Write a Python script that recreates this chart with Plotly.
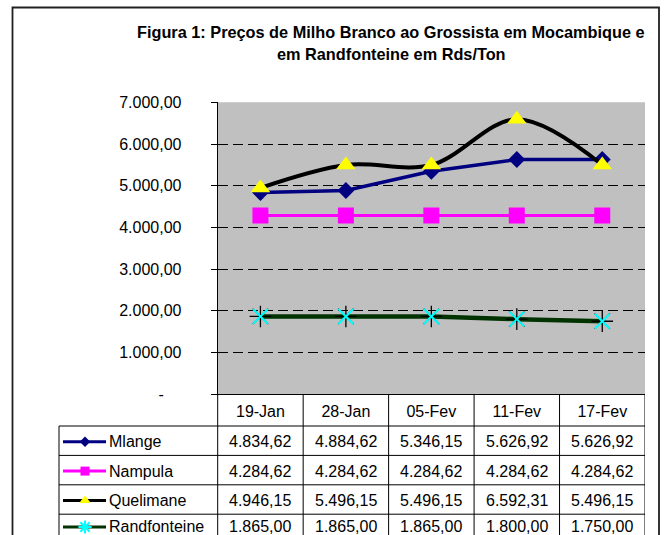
import plotly.graph_objects as go

# ---------------- data ----------------
categories = ["19-Jan", "28-Jan", "05-Fev", "11-Fev", "17-Fev"]
series_names = ["Mlange", "Nampula", "Quelimane", "Randfonteine"]
mlange = [4834.62, 4884.62, 5346.15, 5626.92, 5626.92]
nampula = [4284.62, 4284.62, 4284.62, 4284.62, 4284.62]
quelimane = [4946.15, 5496.15, 5496.15, 6592.31, 5496.15]
randfonteine = [1865.00, 1865.00, 1865.00, 1800.00, 1750.00]
y_ticks = [0, 1000, 2000, 3000, 4000, 5000, 6000, 7000]
title_lines = ["Figura 1: Preços de Milho Branco ao Grossista em Mocambique e",
               "em Randfonteine em Rds/Ton"]

# ---------------- layout helpers ----------------
W, H = 664, 535
FONT = "Liberation Sans, Arial, sans-serif"


def px(x):
    return x / W


def py(y):
    return 1 - y / H


def fmt(v):
    s = f"{v:,.2f}"
    return s.replace(",", "X").replace(".", ",").replace("X", ".")


PLOT_L, PLOT_R, PLOT_T, PLOT_B = 217.7, 645.0, 102.3, 394.2
LEG_L = 59.0
HEADER_B = 426.0
ROW_H = 29.4

fig = go.Figure()

styles = [
    dict(line=dict(color="#000080", width=3.5),
         marker=dict(symbol="diamond", size=13, color="#000080")),
    dict(line=dict(color="#FF00FF", width=3),
         marker=dict(symbol="square", size=16, color="#FF00FF")),
    dict(line=dict(color="#000000", width=4, shape="spline", smoothing=1.0),
         marker=dict(symbol="triangle-up", size=17, color="#FFFF00")),
    dict(line=dict(color="#003300", width=4.5),
         marker=dict(symbol="x-thin-open", size=15, color="#00FFFF",
                     line=dict(width=2))),
]
values = [mlange, nampula, quelimane, randfonteine]

for name, vals, st in zip(series_names, values, styles):
    if name == "Randfonteine":
        fig.add_trace(go.Scatter(x=categories, y=vals, mode="lines",
                                 line=st["line"], showlegend=False,
                                 hoverinfo="skip"))
        fig.add_trace(go.Scatter(x=categories, y=vals, mode="markers",
                                 marker=dict(symbol="asterisk-open", size=18,
                                             color="#000000",
                                             line=dict(width=1.3)),
                                 showlegend=False, hoverinfo="skip"))
        fig.add_trace(go.Scatter(x=categories, y=vals, mode="markers", name=name,
                                 marker=st["marker"], showlegend=False))
    else:
        fig.add_trace(go.Scatter(x=categories, y=vals, mode="lines+markers",
                                 name=name, line=st["line"], marker=st["marker"],
                                 showlegend=False))

# ---------------- legend keys in the data table (pixel overlay axis) ----------------
key_marker_sizes = [8, 9, 10, 10]
for i, (name, st) in enumerate(zip(series_names, styles)):
    yc = min(HEADER_B + ROW_H * (i + 0.5) + 1, H - 8)
    ln = dict(color=st["line"]["color"], width=3)
    fig.add_trace(go.Scatter(x=[63, 106], y=[yc, yc], mode="lines", line=ln,
                             xaxis="x2", yaxis="y2", showlegend=False,
                             hoverinfo="skip", cliponaxis=False))
    mk = dict(st["marker"])
    mk["size"] = key_marker_sizes[i]
    if name == "Randfonteine":
        mk = dict(symbol="asterisk-open", size=11, color="#00FFFF",
                  line=dict(width=2))
    fig.add_trace(go.Scatter(x=[85], y=[yc], mode="markers", marker=mk,
                             xaxis="x2", yaxis="y2", showlegend=False,
                             hoverinfo="skip", cliponaxis=False))

# ---------------- shapes: plot background, table lines, border ----------------
shapes = [dict(type="rect", xref="x domain", yref="y domain",
               x0=0, x1=1, y0=0, y1=1, layer="below",
               fillcolor="#C0C0C0", line=dict(width=0))]
line_k = dict(color="#000000", width=1)
for i in range(len(categories)):
    shapes.append(dict(type="line", xref="x", yref="paper",
                       x0=i + 0.5, x1=i + 0.5, y0=py(PLOT_B), y1=py(H + 10),
                       line=line_k))
shapes.append(dict(type="line", xref="paper", yref="paper",
                   x0=px(PLOT_L), x1=px(PLOT_L), y0=py(PLOT_B), y1=py(H + 10),
                   line=line_k))
shapes.append(dict(type="line", xref="paper", yref="paper",
                   x0=px(LEG_L), x1=px(LEG_L), y0=py(HEADER_B), y1=py(H + 10),
                   line=line_k))
for i in range(len(series_names)):
    yy = HEADER_B + ROW_H * i
    shapes.append(dict(type="line", xref="paper", yref="paper",
                       x0=px(LEG_L), x1=px(PLOT_R), y0=py(yy), y1=py(yy),
                       line=line_k))
shapes.append(dict(type="rect", xref="paper", yref="paper",
                   x0=px(12.5), x1=px(659), y0=py(7.5), y1=py(H + 20),
                   line=dict(color="#202020", width=1.8)))

# ---------------- table text ----------------
annotations = []
for i, (name, vals) in enumerate(zip(series_names, values)):
    yc = min(HEADER_B + ROW_H * (i + 0.5) + 1, H - 9)
    annotations.append(dict(x=px(107), y=py(yc), xref="paper", yref="paper",
                            text=name, showarrow=False, xanchor="left",
                            yanchor="middle",
                            font=dict(family=FONT, size=16, color="#000")))
    for c, v in zip(categories, vals):
        annotations.append(dict(x=c, y=py(yc), xref="x", yref="paper",
                                text=fmt(v), showarrow=False, xanchor="center",
                                yanchor="middle",
                                font=dict(family=FONT, size=16, color="#000")))

for j, t in enumerate(title_lines):
    annotations.append(dict(x=px(391), y=py(32 + 22 * j), xref="paper", yref="paper",
                            text="<b>" + t + "</b>", showarrow=False,
                            xanchor="center", yanchor="middle",
                            font=dict(family=FONT, size=16.3, color="#000")))

tick_text = [("-" + "\u00a0" * 4) if v == 0 else fmt(v) for v in y_ticks]

fig.update_layout(
    template="none",
    width=W, height=H, autosize=False,
    margin=dict(l=0, r=0, t=0, b=0, pad=0),
    paper_bgcolor="#FFFFFF",
    plot_bgcolor="rgba(0,0,0,0)",
    font=dict(family=FONT, size=16, color="#000"),
    showlegend=False,
    xaxis=dict(domain=[px(PLOT_L), px(PLOT_R)], type="category",
               range=[-0.5, len(categories) - 0.5], automargin=False,
               showline=True, linecolor="#000", linewidth=1,
               showgrid=False, zeroline=False, ticks="",
               tickfont=dict(family=FONT, size=16, color="#000"),
               ticklabelstandoff=3),
    yaxis=dict(domain=[py(PLOT_B), py(PLOT_T)], range=[0, 7000], automargin=False,
               tickvals=y_ticks, ticktext=tick_text,
               showline=True, linecolor="#000", linewidth=1,
               ticks="outside", ticklen=6, tickwidth=1, tickcolor="#000",
               showgrid=True, gridcolor="#000", gridwidth=1,
               griddash="10px,5px", zeroline=False,
               tickfont=dict(family=FONT, size=16, color="#000"),
               ticklabelstandoff=26),
    xaxis2=dict(domain=[0, 1], range=[0, W], visible=False, fixedrange=True,
                automargin=False),
    yaxis2=dict(domain=[0, 1], range=[H, 0], visible=False, fixedrange=True,
                anchor="x2", automargin=False),
    shapes=shapes,
    annotations=annotations,
)

fig.write_html("out.html",
               config={"displayModeBar": False, "responsive": False},
               post_script="document.body.style.margin='0';"
                           "document.body.style.overflow='hidden';")
